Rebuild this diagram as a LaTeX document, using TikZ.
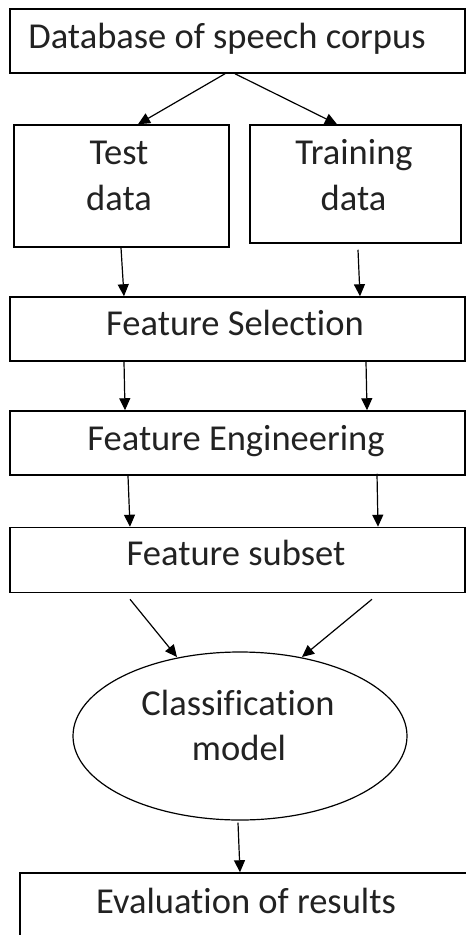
\documentclass[tikz,border=0pt]{standalone}
\usepackage{fontspec}
\setmainfont{Carlito}[Ligatures={NoCommon}]
\usetikzlibrary{arrows.meta,calc,shapes.geometric}
\definecolor{txt}{HTML}{222222}
\begin{document}
\begin{tikzpicture}[x=1pt,y=-1pt,
  box/.style={draw,line width=1.5pt,inner sep=0pt},
  oval/.style={draw,ellipse,line width=1.2pt,inner sep=0pt},
  lbl/.style={anchor=base,inner sep=0pt,text=txt,font=\fontsize{36.5}{45}\selectfont},
  arr/.style={line width=1.2pt,-{Triangle[length=12pt,width=11pt]}}]
\useasboundingbox (0,0) rectangle (466,935);
\clip (0,0) rectangle (466,935);
\node[box,minimum width=455pt,minimum height=64pt] (db) at (237.5,41) {};
\node[lbl] (dbt) at (227,48) {Database of speech corpus};
\node[box,minimum width=215pt,minimum height=122pt] (test) at (121.5,186) {};
\node[lbl] (testa) at (119,164) {Test};
\node[lbl] (testb) at (119,210) {data};
\node[box,minimum width=211pt,minimum height=118pt] (train) at (355.5,184) {};
\node[lbl] (traina) at (354,164) {Training};
\node[lbl] (trainb) at (353.5,210) {data};
\node[box,minimum width=455pt,minimum height=64pt] (fs) at (237.5,329) {};
\node[lbl] (fst) at (235,335) {Feature Selection};
\node[box,minimum width=455pt,minimum height=64pt] (fe) at (237.5,443) {};
\node[lbl] (fet) at (236,450) {Feature Engineering};
\node[box,minimum width=455pt,minimum height=65pt] (fsub) at (237.5,560) {};
\node[lbl] (fsubt) at (236,565) {Feature subset};
\node[oval,minimum width=334pt,minimum height=168pt] (cm) at (240,736) {};
\node[lbl] (cma) at (238,715) {Classification};
\node[lbl] (cmb) at (239,760) {model};
\node[box,minimum width=452pt,minimum height=70pt] (ev) at (246,908) {};
\node[lbl] (evt) at (246,913) {Evaluation of results};
\draw[arr] ($(db.south)+(-12.5,0)$) -- ($(test.north)+(16.5,0)$);
\draw[arr] ($(db.south)+(-2.5,0)$) -- ($(train.north)+(-18.5,0)$);
\draw[arr] ($(test.south)+(-0.5,0)$) -- ($(fs.north)+(-113.5,0)$);
\draw[arr] ($(train.south)+(2.5,6)$) -- ($(fs.north)+(122.5,0)$);
\draw[arr] ($(fs.south)+(-113.5,0)$) -- ($(fe.north)+(-112.5,0)$);
\draw[arr] ($(fs.south)+(128.5,0)$) -- ($(fe.north)+(129.5,0)$);
\draw[arr] ($(fe.south)+(-109.5,0)$) -- ($(fsub.north)+(-107.5,0)$);
\draw[arr] ($(fe.south)+(139.5,-2)$) -- ($(fsub.north)+(140.5,0)$);
\draw[arr] ($(fsub.south)+(-107.5,6)$) -- ($(cm.center)+(-63,-79)$);
\draw[arr] ($(fsub.south)+(134.5,6)$) -- ($(cm.center)+(62,-79)$);
\draw[arr] ($(cm.south)+(-2,2)$) -- ($(ev.north)+(-6,0)$);
\end{tikzpicture}
\end{document}
